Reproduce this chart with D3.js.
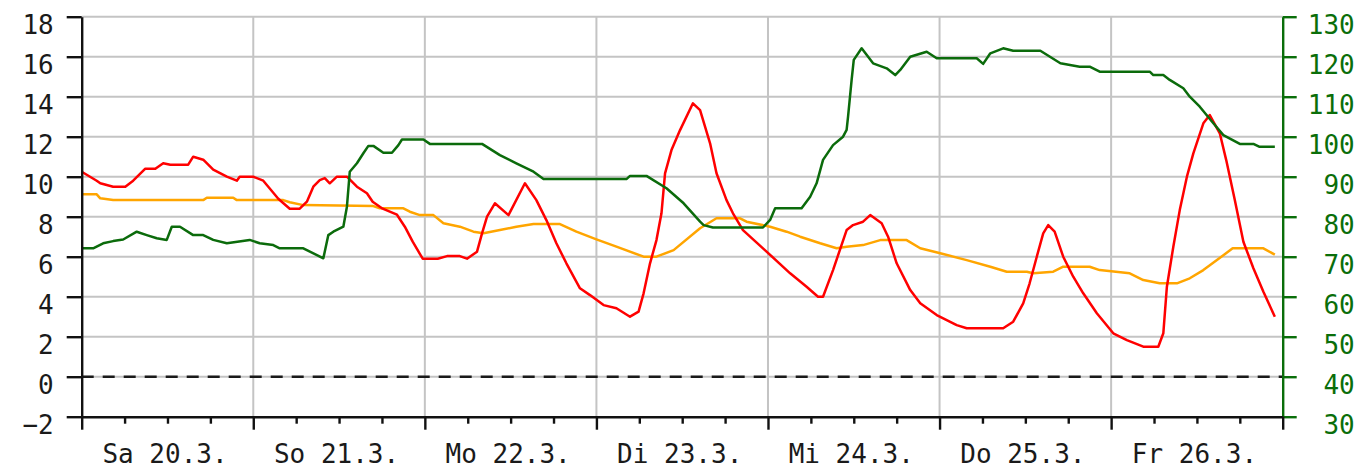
<!DOCTYPE html>
<html><head><meta charset="utf-8">
<script src="https://cdn.jsdelivr.net/npm/d3@7"></script>
<style>
html,body{margin:0;padding:0;background:#fff;}
svg{display:block;}
text{font-family:"DejaVu Sans Mono","Liberation Mono",monospace;font-size:26px;}
</style></head>
<body>
<svg id="c" width="1357" height="470"></svg>
<script>
// ---- data (hours since Sa 20.3. 00:00) ----
const dayLabels = ["Sa 20.3.","So 21.3.","Mo 22.3.","Di 23.3.","Mi 24.3.","Do 25.3.","Fr 26.3."];
const leftTicks = [-2,0,2,4,6,8,10,12,14,16,18];
const rightTicks = [30,40,50,60,70,80,90,100,110,120,130];

const redHours = [0,2.1,2.6,4.4,6.1,7.2,8.9,10.3,11.4,12.4,14.9,15.6,17.0,18.4,20.3,21.7,22.1,24,25.4,27.5,29.1,30.5,31.5,32.4,33.3,34.0,34.7,35.7,37.1,38.5,39.9,40.7,42.1,44.1,45.2,46.3,47.7,49.8,51.1,52.9,53.9,55.3,56.0,56.7,57.8,59.7,62.0,63.6,65.0,66.4,67.8,69.7,71.1,73.0,74.8,76.7,77.9,78.6,79.5,80.4,81.1,81.6,82.5,83.7,85.5,86.5,87.9,88.8,90.2,91.1,92.5,95.3,99.1,101.4,103.0,103.7,105.1,107.0,107.9,109.3,110.3,111.9,112.8,114.0,115.9,117.3,119.6,122.4,123.8,128.9,130.3,131.7,132.6,133.6,134.5,135.2,136.1,137.3,138.7,140.1,142.0,144.3,146.2,148.5,150.6,151.3,151.8,152.7,153.6,154.6,155.5,156.9,157.8,159.2,160.1,161.3,162.5,163.9,165.3,166.9];
const redValues = [10.25,9.8,9.67,9.5,9.5,9.8,10.4,10.4,10.67,10.6,10.6,11.0,10.85,10.35,10.0,9.8,10.0,10.0,9.8,8.9,8.4,8.4,8.75,9.5,9.83,9.93,9.67,10.0,10.0,9.5,9.17,8.75,8.4,8.1,7.5,6.75,5.9,5.9,6.03,6.03,5.9,6.25,7.17,8.0,8.67,8.08,9.67,8.83,7.83,6.67,5.67,4.42,4.08,3.58,3.42,3.0,3.25,4.17,5.67,6.83,8.17,10.17,11.33,12.33,13.67,13.33,11.67,10.17,8.83,8.17,7.33,6.42,5.17,4.5,4.0,4.0,5.33,7.33,7.58,7.75,8.08,7.67,7.0,5.67,4.33,3.67,3.08,2.58,2.42,2.42,2.75,3.67,4.67,6.0,7.17,7.58,7.25,6.0,5.0,4.17,3.17,2.17,1.83,1.5,1.5,2.17,4.5,6.5,8.33,10.0,11.17,12.67,13.08,12.17,10.83,8.83,6.75,5.42,4.25,3.0];

const orangeHours = [0,2.1,2.6,4.4,17.0,17.5,21.2,21.7,28.2,29.1,31.0,40.8,41.7,45.0,45.9,47.3,49.2,50.6,52.9,54.8,56.2,58.5,60.8,63.2,66.9,69.2,72.0,74.8,78.6,80.4,82.8,86.5,88.8,92.1,93.0,96.3,98.6,100.5,103.3,105.6,107.0,109.3,111.7,115.4,117.3,120.1,123.8,127.1,129.4,132.2,133.1,135.9,137.3,141.0,142.4,146.6,148.5,150.8,153.2,155.0,156.9,158.8,161.0,165.3,166.9];
const orangeValues = [9.12,9.12,8.92,8.83,8.83,8.95,8.95,8.83,8.83,8.72,8.58,8.53,8.42,8.42,8.25,8.08,8.08,7.67,7.5,7.25,7.17,7.33,7.5,7.63,7.63,7.25,6.87,6.5,6.0,6.0,6.33,7.42,7.92,7.92,7.75,7.5,7.25,7.0,6.67,6.42,6.5,6.58,6.83,6.83,6.42,6.17,5.83,5.5,5.25,5.25,5.17,5.25,5.5,5.5,5.33,5.17,4.83,4.67,4.67,4.92,5.33,5.83,6.42,6.42,6.1];

const greenHours = [0,1.6,3.0,4.4,5.8,7.7,9.1,10.5,11.9,12.6,13.75,15.6,17.0,18.4,20.3,23.5,24.9,26.8,27.7,31.0,33.8,34.5,35.2,36.6,37.1,37.5,38.5,39.4,40.1,40.8,42.2,43.4,44.3,44.8,47.8,48.7,56.0,58.5,60.8,63.2,64.6,76.2,76.7,79.0,81.8,84.2,86.5,87.0,88.3,95.3,96.3,97.0,100.7,101.9,102.8,103.7,105.1,106.5,107.0,107.2,107.7,108.0,109.1,110.7,112.6,113.8,114.5,115.9,118.2,119.6,125.2,126.1,127.1,128.9,130.3,134.1,136.9,139.6,141.0,142.4,149.4,149.9,151.3,152.2,154.1,155.0,156.4,158.3,159.7,162.0,163.9,164.7,166.9];
const greenValues = [72.1,72.1,73.35,73.9,74.3,76.25,75.4,74.6,74.2,77.5,77.5,75.4,75.4,74.2,73.35,74.2,73.35,72.9,72.1,72.1,69.6,75.4,76.25,77.5,82.5,91.25,93.35,95.85,97.7,97.7,96.0,96.0,97.9,99.3,99.3,98.2,98.2,95.4,93.35,91.25,89.4,89.4,90.2,90.2,87.1,83.35,78.75,77.9,77.3,77.3,79.2,82.1,82.1,85.0,88.35,94.2,97.9,100.0,101.7,105,114.2,119.2,122.1,118.35,117.1,115.4,116.7,120.0,121.25,119.6,119.6,118.2,120.85,122.1,121.5,121.5,118.35,117.5,117.5,116.25,116.25,115.4,115.4,114.2,112.1,110,107.5,103.35,100.4,98.2,98.2,97.5,97.5];

// ---- layout ----
const L = 81.7, R = 1282.7, T = 16.7, B = 416.7;
const svg = d3.select("#c");
const x = d3.scaleLinear().domain([0,168]).range([L,R]);
const yL = d3.scaleLinear().domain([-2,18]).range([B,T]);
const yR = d3.scaleLinear().domain([30,130]).range([B,T]);
const GREEN = "#0a6e0a";

// grid
const grid = svg.append("g");
grid.selectAll("line.h").data(leftTicks.filter(v=>v>-2)).join("line")
  .attr("x1",L).attr("x2",R).attr("y1",d=>yL(d)).attr("y2",d=>yL(d))
  .attr("stroke","#c4c4c4").attr("stroke-width",2);
grid.selectAll("line.v").data(d3.range(24,168,24)).join("line")
  .attr("x1",d=>x(d)).attr("x2",d=>x(d)).attr("y1",T).attr("y2",B)
  .attr("stroke","#c4c4c4").attr("stroke-width",2);
// zero line dashed
svg.append("line").attr("x1",L).attr("x2",R).attr("y1",yL(0)).attr("y2",yL(0))
  .attr("stroke","#1a1a1a").attr("stroke-width",2.4).attr("stroke-dasharray","12,9");

// lines
function drawLine(hours, vals, scale, color){
  const pts = hours.map((h,i)=>[h, vals[i]]);
  svg.append("path").datum(pts)
    .attr("fill","none").attr("stroke",color).attr("stroke-width",2.5)
    .attr("stroke-linejoin","round")
    .attr("d", d3.line().x(d=>x(d[0])).y(d=>scale(d[1])));
}
drawLine(orangeHours, orangeValues, yL, "#ffa500");
drawLine(redHours, redValues, yL, "#ff0000");
drawLine(greenHours, greenValues, yR, "#0b6b0b");

// left axis
const gl = svg.append("g").attr("transform",`translate(${L},0)`)
  .call(d3.axisLeft(yL).tickValues(leftTicks).tickSize(15).tickPadding(13).tickSizeOuter(0));
gl.select(".domain").attr("stroke","#111").attr("stroke-width",2.4);
gl.selectAll(".tick line").attr("stroke","#111").attr("stroke-width",2.4);
gl.selectAll(".tick text").attr("fill","#1a1a1a").attr("dy",null).attr("y",17)
  .style("font-size","26px").style("font-family","DejaVu Sans Mono");

// right axis
const gr = svg.append("g").attr("transform",`translate(${R},0)`)
  .call(d3.axisRight(yR).tickValues(rightTicks).tickSize(14).tickSizeOuter(0));
gr.select(".domain").attr("stroke",GREEN).attr("stroke-width",2.4);
gr.selectAll(".tick line").attr("stroke",GREEN).attr("stroke-width",2.4);
gr.selectAll(".tick text").attr("fill",GREEN).attr("dy",null).attr("y",17)
  .attr("x",72).attr("text-anchor","end")
  .style("font-size","26px").style("font-family","DejaVu Sans Mono");

// bottom axis: minor ticks
const gbm = svg.append("g").attr("transform",`translate(0,${B})`)
  .call(d3.axisBottom(x).tickValues(d3.range(6,168,6).filter(h=>h%24)).tickSize(7).tickFormat(""));
gbm.select(".domain").remove();
gbm.selectAll(".tick line").attr("stroke","#111").attr("stroke-width",2.4);
// major ticks + domain
const gb = svg.append("g").attr("transform",`translate(0,${B})`)
  .call(d3.axisBottom(x).tickValues(d3.range(0,169,24)).tickSize(13).tickSizeOuter(0).tickFormat(""));
gb.select(".domain").attr("stroke","#111").attr("stroke-width",2.4);
gb.selectAll(".tick line").attr("stroke","#111").attr("stroke-width",2.4);
// day labels
const gd = svg.append("g").attr("transform",`translate(0,${B})`)
  .call(d3.axisBottom(x).tickValues(d3.range(12,168,24)).tickSize(0)
    .tickFormat((d,i)=>dayLabels[i]));
gd.select(".domain").remove();
gd.selectAll(".tick text").attr("fill","#1a1a1a").attr("dy",null).attr("y",46).attr("dx",-3)
  .style("font-size","26px").style("font-family","DejaVu Sans Mono");
</script>
</body></html>
